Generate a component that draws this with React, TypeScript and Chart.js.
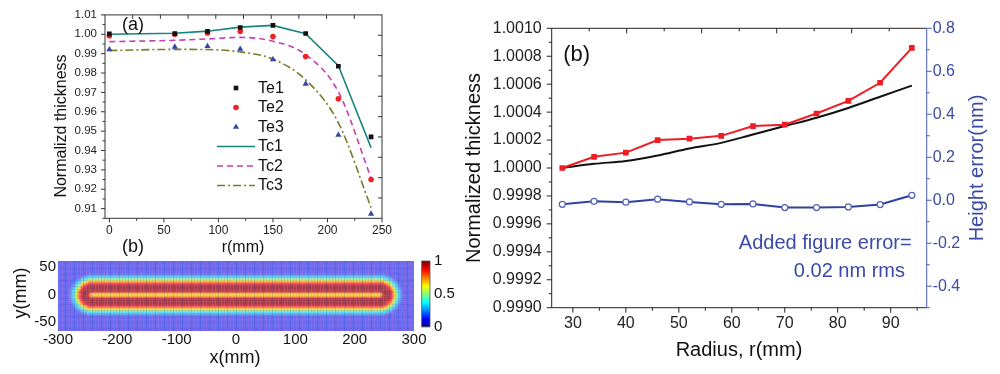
import React, { useEffect, useRef } from "react";
import { Chart, registerables } from "chart.js";
Chart.register(...registerables);

const FONT = "'Liberation Sans', Arial, Helvetica, sans-serif";

// ---------------- panel (a): normalized thickness vs r ----------------
const rPositions = [0, 60, 90, 120, 150, 180, 210, 240];
const te1 = [1.0002, 1.0003, 1.0015, 1.0035, 1.0046, 1.0004, 0.9835, 0.947];
const te2 = [0.9993, 1.0, 1.0007, 1.0015, 0.9988, 0.9885, 0.9667, 0.925];
const te3 = [0.9921, 0.9935, 0.9938, 0.9924, 0.987, 0.9744, 0.948, 0.9073];
const tc1 = [1.0, 1.0005, 1.0016, 1.0037, 1.0046, 1.0003, 0.9838, 0.9414];
const tc2 = [0.9962, 0.9969, 0.9976, 0.9984, 0.9964, 0.9895, 0.9703, 0.9258];
const tc3 = [0.9916, 0.9922, 0.9921, 0.9909, 0.9872, 0.9765, 0.9543, 0.9105];
const aXTicks = [0, 50, 100, 150, 200, 250];
const aYTicks = [0.91, 0.92, 0.93, 0.94, 0.95, 0.96, 0.97, 0.98, 0.99, 1.0, 1.01];

// ---------------- panel (b) left: thickness map ----------------
const mapXTicks = [-300, -200, -100, 0, 100, 200, 300];
const mapYTicks = [-50, 0, 50];
const trackHalfLength = 242; // mm, straight part of the racetrack
const bandStep = 2; // mm between profile samples (distance from track centre line)
const bandProfile = [
  0.64, 0.67, 0.78, 0.9, 0.96, 0.99, 1.0, 0.99, 0.97, 0.93, 0.88, 0.8, 0.72,
  0.64, 0.54, 0.45, 0.37, 0.3, 0.24, 0.19, 0.16, 0.15,
];
const colorbarTicks = [0, 0.5, 1];

// ---------------- panel (b) right: thickness vs radius ----------------
const radiusMm = [28, 34, 40, 46, 52, 58, 64, 70, 76, 82, 88, 94];
const thicknessMeasured = [1.0, 1.00008, 1.00011, 1.0002, 1.00021, 1.00023, 1.0003, 1.00031, 1.00039, 1.00048, 1.00061, 1.00086];
const thicknessModel = [1.0, 1.00003, 1.00005, 1.00009, 1.00014, 1.00018, 1.00024, 1.0003, 1.00036, 1.00043, 1.00051, 1.00059];
const heightError = [-0.019, -0.005, -0.009, 0.005, -0.008, -0.019, -0.017, -0.034, -0.034, -0.031, -0.02, 0.023];
const radiusTicks = [30, 40, 50, 60, 70, 80, 90];
const thickTicks = [0.999, 0.9992, 0.9994, 0.9996, 0.9998, 1.0, 1.0002, 1.0004, 1.0006, 1.0008, 1.001];
const errTicks = [-0.4, -0.2, 0.0, 0.2, 0.4, 0.6, 0.8];

// ---------------- helpers ----------------
const steps = (a: number, b: number, s: number) => {
  const out: number[] = [];
  const n = Math.round((b - a) / s);
  for (let i = 0; i <= n; i++) out.push(+(a + i * s).toFixed(6));
  return out;
};
const fracs = (n: number, pick: (i: number) => boolean) => {
  const out: number[] = [];
  for (let i = 0; i <= n; i++) if (pick(i)) out.push(i / n);
  return out;
};

type TickSpec = {
  side: "left" | "right" | "top" | "bottom";
  scale?: string;
  values?: number[];
  fractions?: number[];
  len: number;
  out: boolean;
  color: string;
};

function drawTicks(chart: any, specs: TickSpec[]) {
  const { ctx, chartArea: ca } = chart;
  ctx.save();
  ctx.lineWidth = 1;
  for (const s of specs) {
    ctx.strokeStyle = s.color;
    const horiz = s.side === "top" || s.side === "bottom";
    const pts = s.values
      ? s.values.map((v) => chart.scales[s.scale!].getPixelForValue(v))
      : (s.fractions || []).map((f) =>
          horiz ? ca.left + f * (ca.right - ca.left) : ca.bottom - f * (ca.bottom - ca.top)
        );
    ctx.beginPath();
    for (const p of pts) {
      if (s.side === "left") {
        ctx.moveTo(ca.left, p);
        ctx.lineTo(ca.left + (s.out ? -s.len : s.len), p);
      } else if (s.side === "right") {
        ctx.moveTo(ca.right, p);
        ctx.lineTo(ca.right + (s.out ? s.len : -s.len), p);
      } else if (s.side === "bottom") {
        ctx.moveTo(p, ca.bottom);
        ctx.lineTo(p, ca.bottom + (s.out ? s.len : -s.len));
      } else {
        ctx.moveTo(p, ca.top);
        ctx.lineTo(p, ca.top + (s.out ? -s.len : s.len));
      }
    }
    ctx.stroke();
  }
  ctx.restore();
}

function drawText(
  ctx: CanvasRenderingContext2D,
  text: string,
  x: number,
  y: number,
  size: number,
  color = "#111",
  align: CanvasTextAlign = "center",
  rotate = 0
) {
  ctx.save();
  ctx.translate(x, y);
  if (rotate) ctx.rotate(rotate);
  ctx.font = `${size}px ${FONT}`;
  ctx.fillStyle = color;
  ctx.textAlign = align;
  ctx.textBaseline = "middle";
  ctx.fillText(text, 0, 0);
  ctx.restore();
}

const clamp = (v: number) => Math.max(0, Math.min(1, v));
function jet(v: number): [number, number, number] {
  const r = clamp(1.5 - Math.abs(4 * v - 3));
  const g = clamp(1.5 - Math.abs(4 * v - 2));
  const b = clamp(1.5 - Math.abs(4 * v - 1));
  return [r * 255, g * 255, b * 255];
}

const fixTicks = (vals: number[]) => (scale: any) => {
  scale.ticks = vals.map((v) => ({ value: v }));
};

// ---------------- chart (a) ----------------
function makeChartA(canvas: HTMLCanvasElement) {
  const pts = (ys: number[]) => rPositions.map((x, i) => ({ x, y: ys[i] }));
  const legendPlugin = {
    id: "panelA",
    afterDraw(chart: any) {
      const { ctx, chartArea: ca } = chart;
      ctx.save();
      ctx.strokeStyle = "#333";
      ctx.lineWidth = 1;
      ctx.strokeRect(ca.left, ca.top, ca.right - ca.left, ca.bottom - ca.top);
      ctx.restore();
      drawTicks(chart, [
        { side: "left", scale: "y", values: aYTicks, len: 4, out: true, color: "#333" },
        { side: "left", scale: "y", values: steps(0.905, 1.005, 0.01), len: 2.5, out: true, color: "#333" },
        { side: "bottom", scale: "x", values: aXTicks, len: 4, out: true, color: "#333" },
        { side: "bottom", scale: "x", values: steps(25, 225, 50), len: 2.5, out: true, color: "#333" },
        { side: "top", fractions: fracs(10, (i) => i > 0 && i < 10), len: 4, out: false, color: "#333" },
        { side: "right", fractions: fracs(10, (i) => i > 0 && i < 10), len: 4, out: false, color: "#333" },
      ]);
      drawText(ctx, "(a)", 133, 25, 18);
      drawText(ctx, "Normalizd thickness", 62, 126, 16, "#111", "center", -Math.PI / 2);
      drawText(ctx, "r(mm)", 243, 248, 16);
      drawText(ctx, "(b)", 133, 247, 18);
      // legend
      const rows = [88, 107.5, 127, 146.5, 166, 185.5];
      chart.data.datasets.forEach((ds: any, i: number) => {
        const y = rows[i];
        ctx.save();
        if (ds.showLine) {
          ctx.strokeStyle = ds.borderColor;
          ctx.lineWidth = ds.borderWidth;
          ctx.setLineDash(ds.borderDash || []);
          ctx.beginPath();
          ctx.moveTo(217, y);
          ctx.lineTo(255, y);
          ctx.stroke();
        } else {
          ctx.fillStyle = ds.backgroundColor;
          const cx = 236;
          ctx.beginPath();
          if (ds.pointStyle === "rect") ctx.rect(cx - 2.3, y - 2.3, 4.6, 4.6);
          else if (ds.pointStyle === "circle") ctx.arc(cx, y, 2.8, 0, Math.PI * 2);
          else {
            ctx.moveTo(cx, y - 3.6);
            ctx.lineTo(cx + 3.1, y + 1.8);
            ctx.lineTo(cx - 3.1, y + 1.8);
            ctx.closePath();
          }
          ctx.fill();
        }
        ctx.restore();
        drawText(ctx, ds.label, 258, y + 0.5, 16, "#111", "left");
      });
    },
  };
  const marker = (label: string, ys: number[], style: string, color: string, r: number) => ({
    label,
    data: pts(ys),
    showLine: false,
    pointStyle: style,
    pointRadius: r,
    backgroundColor: color,
    borderColor: color,
    pointBorderWidth: 0,
  });
  const line = (label: string, ys: number[], color: string, dash: number[], smooth: boolean) => ({
    label,
    data: pts(ys),
    showLine: true,
    pointRadius: 0,
    borderColor: color,
    backgroundColor: color,
    borderWidth: 1.6,
    borderDash: dash,
    cubicInterpolationMode: smooth ? "monotone" : "default",
    tension: smooth ? 0.4 : 0,
  });
  return new Chart(canvas, {
    type: "scatter",
    data: {
      datasets: [
        marker("Te1", te1, "rect", "#111111", 3.3),
        marker("Te2", te2, "circle", "#ee2222", 2.8),
        marker("Te3", te3, "triangle", "#3446a8", 3.6),
        line("Tc1", tc1, "#16857d", [], false),
        line("Tc2", tc2, "#c63fb2", [6, 4], true),
        line("Tc3", tc3, "#7a7a2a", [8, 3, 2, 3], true),
      ] as any,
    },
    options: {
      animation: false,
      responsive: false,
      layout: { padding: { top: 14, right: 18, left: 0, bottom: 0 } },
      plugins: { legend: { display: false }, tooltip: { enabled: false } },
      scales: {
        x: {
          type: "linear",
          min: -4,
          max: 250,
          afterBuildTicks: fixTicks(aXTicks),
          afterFit: (s: any) => {
            s.height = 262 - 218.3;
          },
          grid: { display: false, drawTicks: false },
          border: { display: false },
          ticks: { font: { size: 12, family: FONT }, color: "#222", padding: 5, maxRotation: 0 },
        },
        y: {
          type: "linear",
          min: 0.905,
          max: 1.01,
          afterBuildTicks: fixTicks(aYTicks),
          afterFit: (s: any) => {
            s.width = 105;
          },
          grid: { display: false, drawTicks: false },
          border: { display: false },
          ticks: {
            font: { size: 11.5, family: FONT },
            color: "#222",
            padding: 8,
            callback: (v: any) => Number(v).toFixed(2),
          },
        },
      },
    },
    plugins: [legendPlugin],
  } as any);
}

// ---------------- chart (b) map ----------------
function makeChartMap(canvas: HTMLCanvasElement) {
  const mapPlugin = {
    id: "heatmap",
    beforeDatasetsDraw(chart: any) {
      const { ctx, chartArea: ca } = chart;
      const xs = chart.scales.x;
      const ys = chart.scales.y;
      const base = [226, 198, 226];
      ctx.save();
      ctx.beginPath();
      ctx.rect(ca.left, ca.top, ca.right - ca.left, ca.bottom - ca.top);
      ctx.clip();
      const yStart = Math.ceil(ys.min / 2) * 2;
      for (let cx = xs.min; cx <= xs.max; cx += 2) {
        const x0 = xs.getPixelForValue(cx - 1);
        const x1 = xs.getPixelForValue(cx + 1);
        const dx = Math.max(Math.abs(cx) - trackHalfLength, 0);
        for (let cy = yStart - 2; cy <= ys.max + 2; cy += 2) {
          const d = Math.sqrt(dx * dx + cy * cy);
          const v = bandProfile[Math.min(Math.round(d / bandStep), bandProfile.length - 1)];
          const c = jet(v);
          const a = v > 0.3 ? 0.68 : 0.52;
          const y0 = ys.getPixelForValue(cy + 1);
          const y1 = ys.getPixelForValue(cy - 1);
          ctx.fillStyle = `rgb(${Math.round(base[0] * (1 - a) + c[0] * a)},${Math.round(
            base[1] * (1 - a) + c[1] * a
          )},${Math.round(base[2] * (1 - a) + c[2] * a)})`;
          ctx.fillRect(x0, y0, x1 - x0 + 0.6, y1 - y0 + 0.6);
        }
      }
      // plaid texture of the measured map
      let k = 0;
      for (let px = ca.left + 1; px < ca.right; px += 3, k++) {
        ctx.fillStyle = k % 3 === 2 ? "rgba(40,60,180,0.18)" : "rgba(235,110,185,0.20)";
        ctx.fillRect(px, ca.top, 1, ca.bottom - ca.top);
      }
      k = 0;
      for (let py = ca.top + 1; py < ca.bottom; py += 3, k++) {
        ctx.fillStyle = k % 2 ? "rgba(235,110,185,0.16)" : "rgba(40,60,180,0.10)";
        ctx.fillRect(ca.left, py, ca.right - ca.left, 1);
      }
      ctx.restore();
    },
    afterDraw(chart: any) {
      const { ctx, chartArea: ca } = chart;
      // colour bar
      const bx = 421.7;
      const bw = 8.3;
      const top = ca.top;
      const bottom = 76.7;
      for (let py = top; py < bottom; py += 1) {
        const v = 1 - (py - top) / (bottom - top);
        const [r, g, b] = jet(v);
        ctx.fillStyle = `rgb(${Math.round(r)},${Math.round(g)},${Math.round(b)})`;
        ctx.fillRect(bx, py, bw, 1.2);
      }
      ctx.save();
      ctx.strokeStyle = "#555";
      ctx.lineWidth = 0.8;
      ctx.strokeRect(bx, top, bw, bottom - top);
      ctx.restore();
      colorbarTicks.forEach((t) => {
        const y = bottom - t * (bottom - top);
        drawText(ctx, String(t), 434, y, 15, "#111", "left");
      });
      drawText(ctx, "y(mm)", 21, 43, 18, "#111", "center", -Math.PI / 2);
      drawText(ctx, "x(mm)", 235, 108, 18);
    },
  };
  return new Chart(canvas, {
    type: "scatter",
    data: { datasets: [] },
    options: {
      animation: false,
      responsive: false,
      layout: { padding: { top: 8.3, right: 46, left: 0, bottom: 0 } },
      plugins: { legend: { display: false }, tooltip: { enabled: false } },
      scales: {
        x: {
          type: "linear",
          min: -300,
          max: 300,
          afterBuildTicks: fixTicks(mapXTicks),
          afterFit: (s: any) => {
            s.height = 124 - 81;
          },
          grid: { display: false, drawTicks: false },
          border: { display: false },
          ticks: { font: { size: 15, family: FONT }, color: "#111", padding: 0, maxRotation: 0 },
        },
        y: {
          type: "linear",
          min: -67,
          max: 61,
          afterBuildTicks: fixTicks(mapYTicks),
          afterFit: (s: any) => {
            s.width = 58;
          },
          grid: { display: false, drawTicks: false },
          border: { display: false },
          ticks: { font: { size: 15, family: FONT }, color: "#111", padding: 2 },
        },
      },
    },
    plugins: [mapPlugin],
  } as any);
}

// ---------------- chart (b) right ----------------
const BLUE = "#3a4aa6";
function makeChartB(canvas: HTMLCanvasElement) {
  const plugin = {
    id: "panelB",
    afterDraw(chart: any) {
      const { ctx, chartArea: ca } = chart;
      ctx.save();
      ctx.lineWidth = 1;
      ctx.strokeStyle = "#222";
      ctx.beginPath();
      ctx.moveTo(ca.right, ca.top);
      ctx.lineTo(ca.left, ca.top);
      ctx.lineTo(ca.left, ca.bottom);
      ctx.lineTo(ca.right, ca.bottom);
      ctx.stroke();
      ctx.strokeStyle = "#4a5ab8";
      ctx.beginPath();
      ctx.moveTo(ca.right, ca.top);
      ctx.lineTo(ca.right, ca.bottom);
      ctx.stroke();
      ctx.restore();
      drawTicks(chart, [
        { side: "left", scale: "y", values: thickTicks, len: 5, out: true, color: "#222" },
        { side: "left", scale: "y", values: steps(0.9991, 1.0009, 0.0002), len: 3, out: true, color: "#222" },
        { side: "bottom", scale: "x", values: radiusTicks, len: 5, out: true, color: "#222" },
        { side: "bottom", scale: "x", values: steps(35, 95, 10), len: 3, out: true, color: "#222" },
        { side: "top", fractions: fracs(10, (i) => i % 2 === 0 && i > 0 && i < 10), len: 5, out: false, color: "#222" },
        { side: "top", fractions: fracs(10, (i) => i % 2 === 1), len: 3, out: false, color: "#222" },
        { side: "right", scale: "y2", values: errTicks, len: 5, out: true, color: "#4a5ab8" },
        { side: "right", scale: "y2", values: steps(-0.5, 0.7, 0.2), len: 3, out: true, color: "#4a5ab8" },
      ]);
      drawText(ctx, "(b)", 136.7, 55, 22);
      drawText(ctx, "Normalized thickness", 34, 168, 20, "#111", "center", -Math.PI / 2);
      drawText(ctx, "Radius, r(mm)", 299, 350, 20);
      drawText(ctx, "Height error(nm)", 537, 168, 20, BLUE, "center", -Math.PI / 2);
      drawText(ctx, "Added figure error=", 471.7, 243, 20, BLUE, "right");
      drawText(ctx, "0.02 nm rms", 465, 271, 20, BLUE, "right");
    },
  };
  const pts = (ys: number[]) => radiusMm.map((x, i) => ({ x, y: ys[i] }));
  return new Chart(canvas, {
    type: "scatter",
    data: {
      datasets: [
        {
          label: "Measured",
          data: pts(thicknessMeasured),
          yAxisID: "y",
          showLine: true,
          borderColor: "#ee1c24",
          backgroundColor: "#ee1c24",
          borderWidth: 2,
          pointStyle: "rect",
          pointRadius: 4,
          pointBorderWidth: 0,
        },
        {
          label: "Model",
          data: pts(thicknessModel),
          yAxisID: "y",
          showLine: true,
          borderColor: "#111111",
          backgroundColor: "#111111",
          borderWidth: 2,
          pointRadius: 0,
          cubicInterpolationMode: "monotone",
        },
        {
          label: "Height error",
          data: pts(heightError),
          yAxisID: "y2",
          showLine: true,
          borderColor: "#2f42a0",
          backgroundColor: "#ffffff",
          borderWidth: 2,
          pointStyle: "circle",
          pointRadius: 3,
          pointBorderWidth: 1.2,
          pointBorderColor: "#5060bb",
          pointBackgroundColor: "#ffffff",
        },
      ] as any,
    },
    options: {
      animation: false,
      responsive: false,
      layout: { padding: { top: 28.3, right: 0, left: 0, bottom: 0 } },
      plugins: { legend: { display: false }, tooltip: { enabled: false } },
      scales: {
        x: {
          type: "linear",
          min: 26,
          max: 96.8,
          afterBuildTicks: fixTicks(radiusTicks),
          afterFit: (s: any) => {
            s.height = 374 - 307.7;
          },
          grid: { display: false, drawTicks: false },
          border: { display: false },
          ticks: { font: { size: 16, family: FONT }, color: "#222", padding: 6, maxRotation: 0 },
        },
        y: {
          type: "linear",
          position: "left",
          min: 0.999,
          max: 1.001,
          afterBuildTicks: fixTicks(thickTicks),
          afterFit: (s: any) => {
            s.width = 111.7;
          },
          grid: { display: false, drawTicks: false },
          border: { display: false },
          ticks: {
            font: { size: 16, family: FONT },
            color: "#222",
            padding: 10,
            callback: (v: any) => Number(v).toFixed(4),
          },
        },
        y2: {
          type: "linear",
          position: "right",
          min: -0.5,
          max: 0.8,
          afterBuildTicks: fixTicks(errTicks),
          afterFit: (s: any) => {
            s.width = 73.3;
          },
          grid: { display: false, drawTicks: false },
          border: { display: false },
          ticks: {
            font: { size: 16, family: FONT },
            color: BLUE,
            padding: 6,
            callback: (v: any) => Number(v).toFixed(1),
          },
        },
      },
    },
    plugins: [plugin],
  } as any);
}

export default function App() {
  const refA = useRef<HTMLCanvasElement>(null);
  const refMap = useRef<HTMLCanvasElement>(null);
  const refB = useRef<HTMLCanvasElement>(null);
  useEffect(() => {
    const charts = [
      makeChartA(refA.current!),
      makeChartMap(refMap.current!),
      makeChartB(refB.current!),
    ];
    return () => charts.forEach((c) => c.destroy());
  }, []);
  const abs = (left: number, top: number, w: number, h: number): React.CSSProperties => ({
    position: "absolute",
    left,
    top,
    width: w,
    height: h,
  });
  return (
    <div style={{ position: "fixed", left: 0, top: 0, width: 1000, height: 374, background: "#fff", overflow: "hidden" }}>
      <canvas ref={refA} width={400} height={262} style={abs(0, 0, 400, 262)} />
      <canvas ref={refMap} width={460} height={124} style={abs(0, 250, 460, 124)} />
      <canvas ref={refB} width={560} height={374} style={abs(440, 0, 560, 374)} />
    </div>
  );
}
